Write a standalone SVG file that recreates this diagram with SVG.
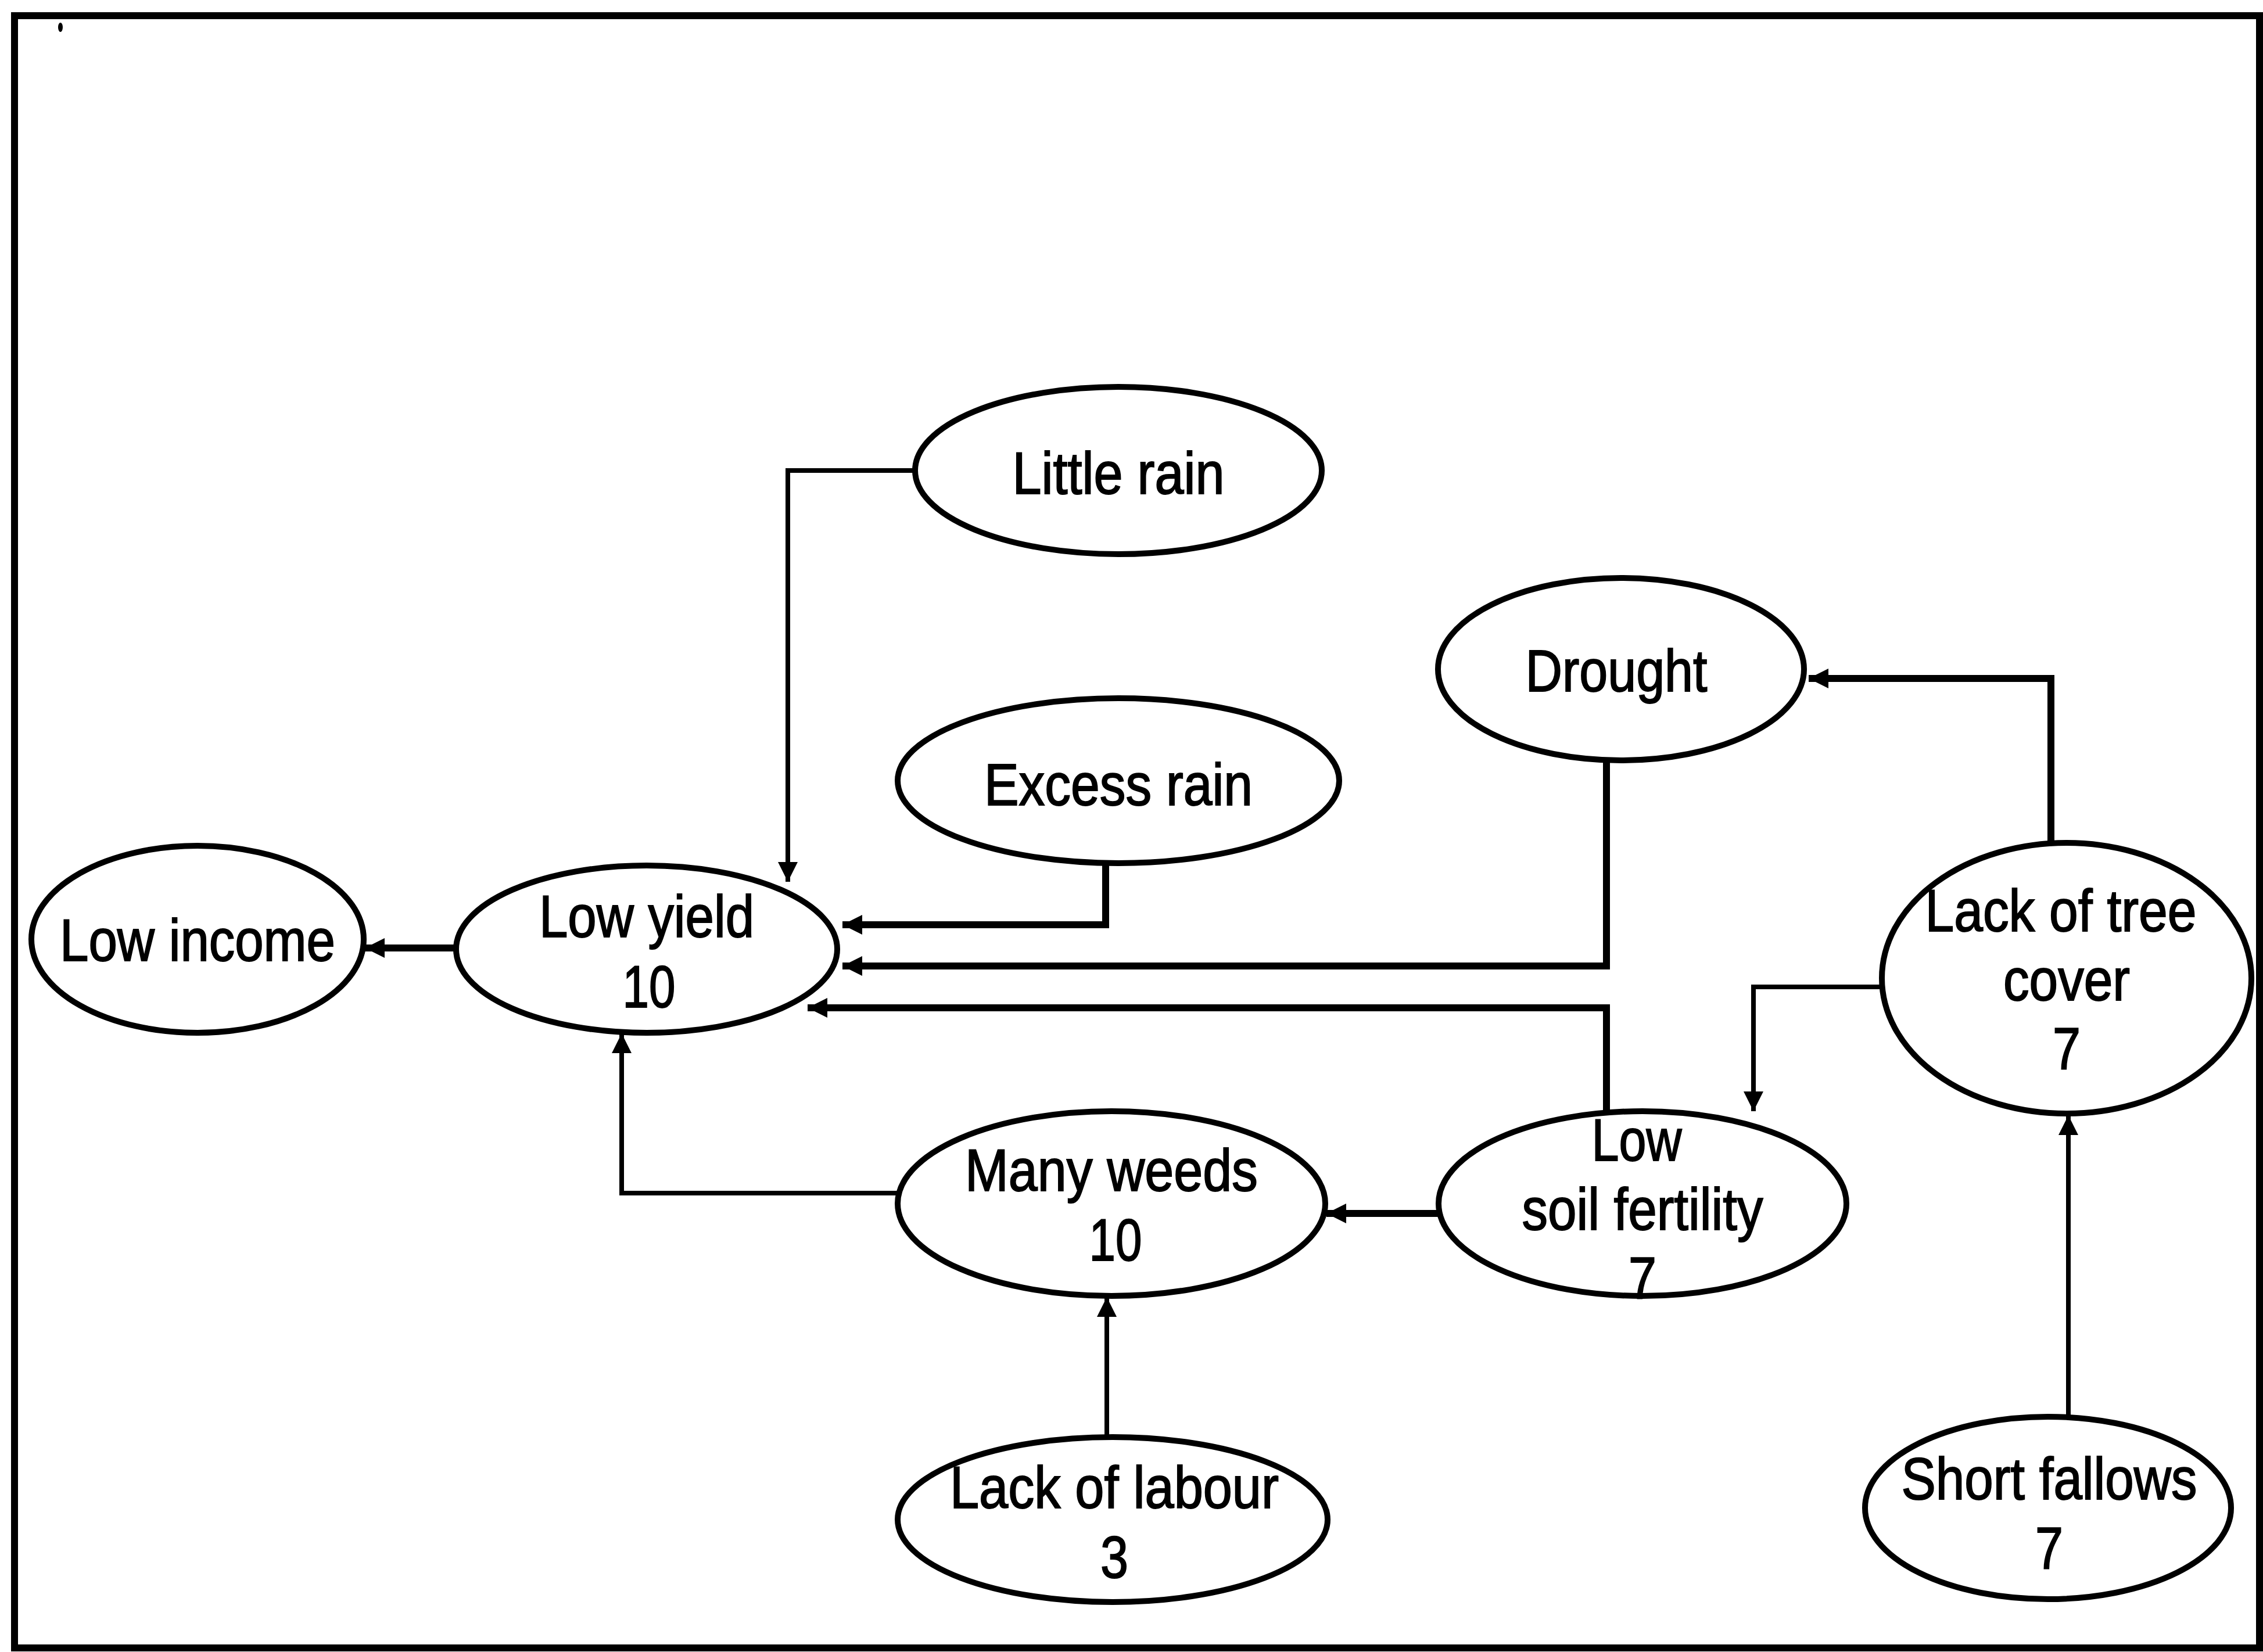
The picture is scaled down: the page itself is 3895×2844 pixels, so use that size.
<svg xmlns="http://www.w3.org/2000/svg" width="3895" height="2844" viewBox="0 0 3895 2844">
<style>
.n{fill:#fff;stroke:#000;stroke-width:10}
.t{font-family:"Liberation Sans",Arial,sans-serif;font-size:102px;fill:#000;stroke:#000;stroke-width:2;text-anchor:middle}
.c{fill:none;stroke:#000;stroke-width:8}
.k{stroke-width:12}
</style>
<defs>
<marker id="ah" viewBox="0 0 10 10" refX="10" refY="5" markerUnits="userSpaceOnUse" markerWidth="36" markerHeight="34" orient="auto">
<path d="M0,0 L10,5 L0,10 z" fill="#000"/>
</marker>
</defs>
<rect width="3895" height="2844" fill="#fff"/>
<g id="frame">
<rect x="25" y="27" width="3864" height="2810" fill="none" stroke="#000" stroke-width="12"/>
<ellipse cx="104" cy="47" rx="4" ry="8" fill="#000"/>
</g>
<g id="connectors">
<polyline class="c k" points="785,1632 628,1632" marker-end="url(#ah)"/>
<polyline class="c" points="1575,810 1356,810 1356,1518" marker-end="url(#ah)"/>
<polyline class="c k" points="1903,1487 1903,1592 1450,1592" marker-end="url(#ah)"/>
<polyline class="c k" points="2765,1309 2765,1663 1450,1663" marker-end="url(#ah)"/>
<polyline class="c k" points="2765,1918 2765,1735 1390,1735" marker-end="url(#ah)"/>
<polyline class="c" points="1545,2054 1070,2054 1070,1779" marker-end="url(#ah)"/>
<polyline class="c" points="1905,2474 1905,2233" marker-end="url(#ah)"/>
<polyline class="c k" points="2477,2089 2283,2089" marker-end="url(#ah)"/>
<polyline class="c k" points="3530,1451 3530,1168 3113,1168" marker-end="url(#ah)"/>
<polyline class="c" points="3239,1699 3018,1699 3018,1913" marker-end="url(#ah)"/>
<polyline class="c" points="3560,2440 3560,1920" marker-end="url(#ah)"/>
</g>
<g id="low-income">
<ellipse class="n" cx="340" cy="1617" rx="286" ry="161"/>
<text class="t" x="340" y="1654" textLength="474" lengthAdjust="spacingAndGlyphs">Low income</text>
</g>
<g id="low-yield">
<ellipse class="n" cx="1113" cy="1634" rx="328" ry="144"/>
<text class="t" x="1113" y="1613" textLength="370" lengthAdjust="spacingAndGlyphs">Low yield</text>
<text class="t" x="1117" y="1734" textLength="91" lengthAdjust="spacingAndGlyphs">10</text>
</g>
<g id="little-rain">
<ellipse class="n" cx="1925" cy="810" rx="350" ry="144"/>
<text class="t" x="1925" y="850" textLength="365" lengthAdjust="spacingAndGlyphs">Little rain</text>
</g>
<g id="excess-rain">
<ellipse class="n" cx="1925" cy="1344" rx="380" ry="142"/>
<text class="t" x="1925" y="1386" textLength="462" lengthAdjust="spacingAndGlyphs">Excess rain</text>
</g>
<g id="drought">
<ellipse class="n" cx="2790" cy="1152" rx="315" ry="157"/>
<text class="t" x="2782" y="1190" textLength="313" lengthAdjust="spacingAndGlyphs">Drought</text>
</g>
<g id="lack-of-tree-cover">
<ellipse class="n" cx="3557" cy="1684" rx="318" ry="233"/>
<text class="t" x="3547" y="1603" textLength="467" lengthAdjust="spacingAndGlyphs">Lack of tree</text>
<text class="t" x="3557" y="1722" textLength="218" lengthAdjust="spacingAndGlyphs">cover</text>
<text class="t" x="3557" y="1841" textLength="48" lengthAdjust="spacingAndGlyphs">7</text>
</g>
<g id="low-soil-fertility">
<ellipse class="n" cx="2827" cy="2072" rx="351" ry="159"/>
<text class="t" x="2817" y="1998" textLength="155" lengthAdjust="spacingAndGlyphs">Low</text>
<text class="t" x="2827" y="2117" textLength="415" lengthAdjust="spacingAndGlyphs">soil fertility</text>
<text class="t" x="2827" y="2236" textLength="48" lengthAdjust="spacingAndGlyphs">7</text>
</g>
<g id="many-weeds">
<ellipse class="n" cx="1913" cy="2072" rx="368" ry="159"/>
<text class="t" x="1913" y="2050" textLength="504" lengthAdjust="spacingAndGlyphs">Many weeds</text>
<text class="t" x="1920" y="2170" textLength="91" lengthAdjust="spacingAndGlyphs">10</text>
</g>
<g id="lack-of-labour">
<ellipse class="n" cx="1915" cy="2616" rx="370" ry="142"/>
<text class="t" x="1918" y="2596" textLength="566" lengthAdjust="spacingAndGlyphs">Lack of labour</text>
<text class="t" x="1918" y="2716" textLength="48" lengthAdjust="spacingAndGlyphs">3</text>
</g>
<g id="short-fallows">
<ellipse class="n" cx="3525" cy="2596" rx="315" ry="157"/>
<text class="t" x="3527" y="2581" textLength="509" lengthAdjust="spacingAndGlyphs">Short fallows</text>
<text class="t" x="3527" y="2701" textLength="48" lengthAdjust="spacingAndGlyphs">7</text>
</g>
</svg>
